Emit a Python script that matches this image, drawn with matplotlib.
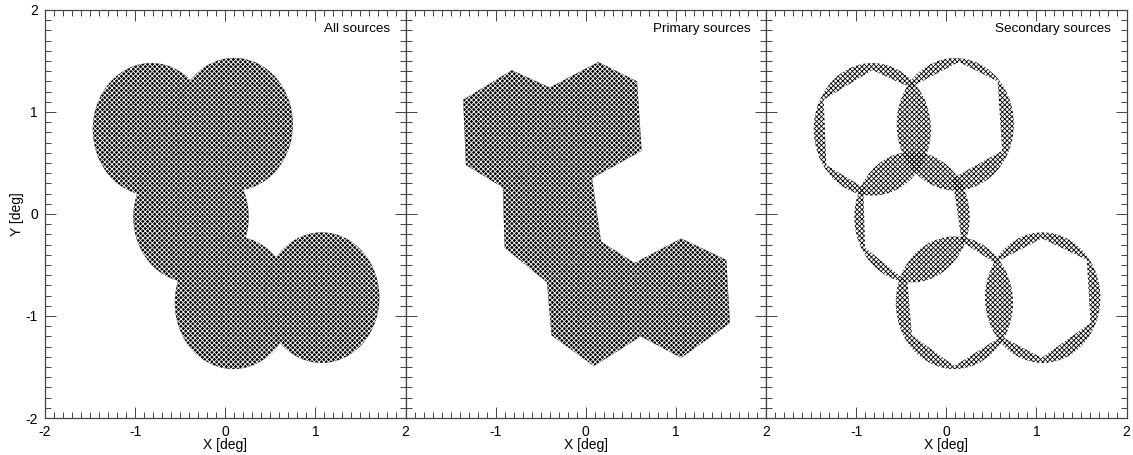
import matplotlib
matplotlib.use('Agg')
import matplotlib.pyplot as plt
from matplotlib.patches import PathPatch
from matplotlib.path import Path
from matplotlib.ticker import MultipleLocator

plt.rcParams['font.family'] = ['Liberation Sans', 'DejaVu Sans']
plt.rcParams['hatch.linewidth'] = 0.6
plt.rcParams['axes.unicode_minus'] = False

# field of view of each pointing (deg)
circle_x = [-0.82, 0.10, -0.38, 0.09, 1.07]
circle_y = [0.83, 0.88, -0.03, -0.87, -0.82]
circle_r = [0.65, 0.65, 0.64, 0.65, 0.64]

# hexagon corners of each pointing, clockwise from the top
# neighbouring pointings share an edge
hex_a = [(-0.82, 1.41), (-0.40, 1.24), (-0.35, 0.60), (-0.92, 0.26), (-1.33, 0.48), (-1.36, 1.12)]
hex_b = [(0.14, 1.49), (0.57, 1.30), (0.62, 0.62), (0.07, 0.35), (-0.35, 0.60), (-0.40, 1.24)]
hex_c = [(-0.35, 0.60), (0.07, 0.35), (0.17, -0.27), (-0.43, -0.67), (-0.90, -0.33), (-0.92, 0.26)]
hex_d = [(0.17, -0.27), (0.54, -0.48), (0.61, -1.20), (0.09, -1.49), (-0.38, -1.19), (-0.43, -0.67)]
hex_e = [(1.06, -0.24), (1.56, -0.45), (1.60, -1.07), (1.06, -1.41), (0.61, -1.20), (0.54, -0.48)]
hexagons = [hex_a, hex_b, hex_c, hex_d, hex_e]

panel_titles = ['All sources', 'Primary sources', 'Secondary sources']
x_ticks = [[-2, -1, 0, 1, 2], [-1, 0, 1, 2], [-1, 0, 1, 2]]
y_ticks = [-2, -1, 0, 1, 2]


def circle_path(i):
    unit = Path.unit_circle()
    verts = unit.vertices * circle_r[i] + [circle_x[i], circle_y[i]]
    return Path(verts, unit.codes)


def hex_path(i):
    return Path(hexagons[i] + [hexagons[i][0]], closed=True)


def ring_path(i):
    return Path.make_compound_path(circle_path(i), hex_path(i))


fig = plt.figure(figsize=(11.33, 4.55), dpi=100)
lefts = [45, 405.5, 766]
axes = []
for n in range(3):
    ax = fig.add_axes([lefts[n] / 1133, 1 - 418 / 455, 360.5 / 1133, 408 / 455])
    ax.set_xlim(-2, 2)
    ax.set_ylim(-2, 2)
    ax.set_xticks(x_ticks[n])
    ax.set_yticks(y_ticks)
    ax.xaxis.set_minor_locator(MultipleLocator(0.1))
    ax.yaxis.set_minor_locator(MultipleLocator(0.1))
    ax.tick_params(which='major', direction='in', top=True, right=True, length=8, width=0.7,
                   color='#444444', labelsize=10, pad=5)
    ax.tick_params(which='minor', direction='in', top=True, right=True, length=4, width=0.7, color='#444444')
    if n > 0:
        ax.tick_params(labelleft=False)
    for s in ax.spines.values():
        s.set_linewidth(0.9)
        s.set_color('#444444')
    ax.set_xlabel('X [deg]', fontsize=10, labelpad=-1)
    ax.text(1.83, 1.81, panel_titles[n], ha='right', va='center', fontsize=9.7)
    axes.append(ax)
axes[0].set_ylabel('Y [deg]', fontsize=10, labelpad=1)

for i in range(5):
    axes[0].add_patch(PathPatch(circle_path(i), facecolor='black', edgecolor='white', hatch='xxxxxxx', lw=0))
    axes[1].add_patch(PathPatch(hex_path(i), facecolor='black', edgecolor='white', hatch='xxxxxxx', lw=0))
    axes[2].add_patch(PathPatch(ring_path(i), facecolor='none', edgecolor='black', hatch='xxxxxxx', lw=0))

plt.savefig('out.png', dpi=100)
